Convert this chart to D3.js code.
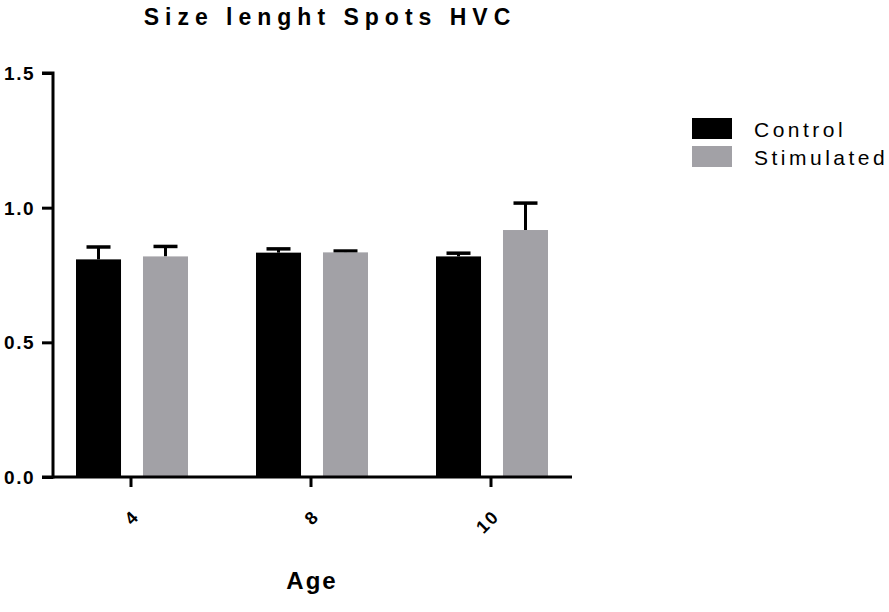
<!DOCTYPE html>
<html>
<head>
<meta charset="utf-8">
<script src="https://cdn.jsdelivr.net/npm/d3@7"></script>
<style>
  body { margin: 0; background: #fff; }
  svg { display: block; }
  text { font-family: "Liberation Sans", Arial, sans-serif; }
</style>
</head>
<body>
<svg id="chart" width="889" height="612"></svg>
<script>
const categories = ["4", "8", "10"];
const seriesNames = ["Control", "Stimulated"];
const controlMeans = [0.808, 0.833, 0.819];
const controlErr = [0.046, 0.014, 0.012];
const stimulatedMeans = [0.819, 0.834, 0.917];
const stimulatedErr = [0.037, 0.005, 0.100];
const yTicks = [0.0, 0.5, 1.0, 1.5];
const colors = ["#000000", "#a2a1a6"];

const svg = d3.select("#chart");
const plotLeft = 53, plotRight = 572, plotTop = 73, plotBottom = 477;

const y = d3.scaleLinear().domain([0, 1.5]).range([plotBottom, plotTop]);
const x0 = d3.scaleBand().domain(categories).range([41, 581]).padding(0);
const innerW = 112;
const x1 = d3.scaleBand().domain(seriesNames).range([0, innerW]).paddingInner(0.328).paddingOuter(0);

const data = categories.map((c, i) => ({
  cat: c,
  vals: [
    { s: "Control", v: controlMeans[i], e: controlErr[i], color: colors[0] },
    { s: "Stimulated", v: stimulatedMeans[i], e: stimulatedErr[i], color: colors[1] }
  ]
}));

const groups = svg.append("g").selectAll("g").data(data).join("g")
  .attr("transform", d => `translate(${x0(d.cat) + x0.bandwidth() / 2 - innerW / 2 + 1},0)`);

groups.selectAll("g.err").data(d => d.vals).join("g").attr("class", "err").each(function(d) {
  const g = d3.select(this);
  const cx = x1(d.s) + x1.bandwidth() / 2;
  g.append("line").attr("x1", cx).attr("x2", cx).attr("y1", y(d.v)).attr("y2", y(d.v + d.e))
    .attr("stroke", "#000").attr("stroke-width", 3);
  g.append("line").attr("x1", cx - 12).attr("x2", cx + 12).attr("y1", y(d.v + d.e)).attr("y2", y(d.v + d.e))
    .attr("stroke", "#000").attr("stroke-width", 3.5);
});

groups.selectAll("rect").data(d => d.vals).join("rect")
  .attr("x", d => x1(d.s))
  .attr("width", x1.bandwidth())
  .attr("y", d => y(d.v))
  .attr("height", d => y(0) - y(d.v))
  .attr("fill", d => d.color);

// y axis
const yAxis = d3.axisLeft(y).tickValues(yTicks).tickFormat(d3.format(".1f")).tickSize(11).tickPadding(8);
const gy = svg.append("g").attr("transform", `translate(${plotLeft},0)`).call(yAxis);
gy.select(".domain").attr("stroke-width", 3).attr("d", `M-11,${plotTop}H0V${plotBottom}H-11`);
gy.selectAll(".tick line").attr("stroke-width", 3);
gy.selectAll(".tick text").attr("font-size", 19).attr("font-weight", "bold").attr("fill", "#000")
  .style("letter-spacing", "1.5px").attr("x", -18).attr("dy", "0.35em");

// x axis
const xAxis = d3.axisBottom(x0).tickSize(10).tickPadding(0);
const gx = svg.append("g").attr("transform", `translate(0,${plotBottom})`).call(xAxis);
gx.select(".domain").attr("stroke-width", 3).attr("d", `M${plotLeft},0H${plotRight}`);
gx.selectAll(".tick line").attr("stroke-width", 3);
gx.selectAll(".tick text").attr("font-size", 18).attr("font-weight", "bold").attr("fill", "#000")
  .style("letter-spacing", "2px")
  .attr("text-anchor", "end")
  .attr("y", 0).attr("dy", "0.35em")
  .attr("transform", "translate(5,36) rotate(-45)");

// axis title
svg.append("text").attr("x", 312).attr("y", 589).attr("text-anchor", "middle")
  .attr("font-size", 24).attr("font-weight", "bold").style("letter-spacing", "2px").text("Age");

// title
svg.append("text").attr("x", 330).attr("y", 25).attr("text-anchor", "middle")
  .attr("font-size", 23).attr("font-weight", "bold").style("letter-spacing", "6px").text("Size lenght Spots HVC");

// legend
const legend = svg.append("g").attr("transform", "translate(692,118)");
seriesNames.forEach((s, i) => {
  const lg = legend.append("g").attr("transform", `translate(0,${i * 28})`);
  lg.append("rect").attr("width", 40).attr("height", 21).attr("fill", colors[i]);
  lg.append("text").attr("x", 62).attr("y", 19).attr("font-size", 21).style("letter-spacing", "3.5px")
    .attr("fill", "#000").text(s);
});
</script>
</body>
</html>
